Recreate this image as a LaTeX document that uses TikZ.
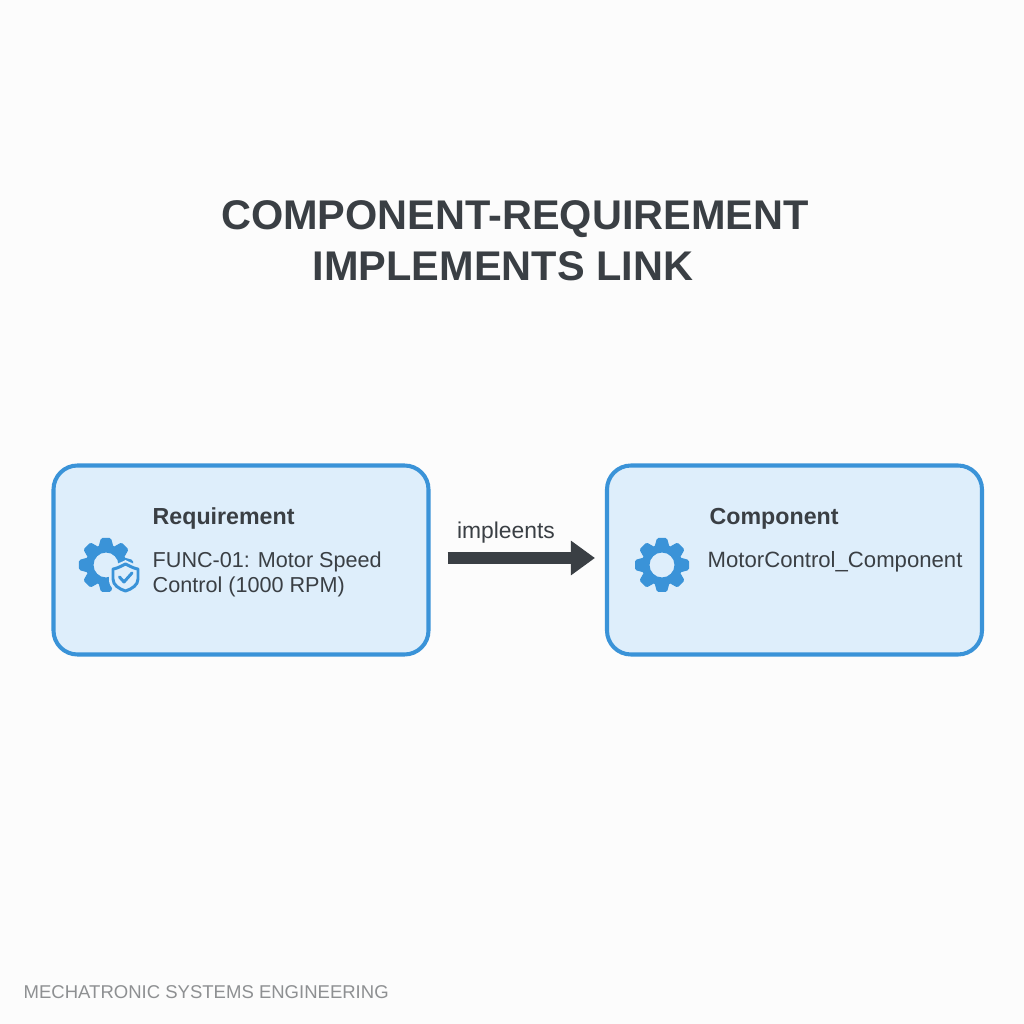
\documentclass[tikz,border=0pt]{standalone}
\usepackage{fontspec}
\setmainfont{Liberation Sans}
\usetikzlibrary{arrows.meta}
\definecolor{boxblue}{HTML}{3A93D8}
\definecolor{boxfill}{HTML}{DEEEFB}
\definecolor{inkdark}{HTML}{3A3F44}
\definecolor{inkgrey}{HTML}{8E9092}
\tikzset{
	blockbox/.style={draw=boxblue, fill=boxfill, line width=1.15pt, rounded corners=0.24cm, minimum width=3.75cm, minimum height=1.89cm, inner sep=0},
	headtext/.style={anchor=west, inner sep=0, text=inkdark, font=\fontsize{6.6}{8}\selectfont\bfseries},
	bodytext/.style={anchor=west, inner sep=0, text=inkdark, font=\fontsize{6.15}{7}\selectfont},
	titletext/.style={inner sep=0, text=inkdark, font=\fontsize{11.8}{14}\selectfont\bfseries},
	linkarrow/.style={draw=inkdark, line width=0.12cm, -{Triangle[length=0.24cm, width=0.33cm]}},
}
\def\gearicon(#1,#2)#3{
	\fill[boxblue, even odd rule] (#1, #2) circle (0.205) (#1, #2) circle (#3);
	\foreach \ang in {0,45,...,315}
		\fill[boxblue, shift={(#1, #2)}, rotate=\ang, rounded corners=0.015cm] (0.18, -0.075) -- (0.27, -0.05) -- (0.27, 0.05) -- (0.18, 0.075) -- cycle;
}
\begin{document}
\begin{tikzpicture}
	\useasboundingbox (0, 0) rectangle (10.24, 10.24);
	\fill[white!99!black] (0, 0) rectangle (10.24, 10.24);

	\node[titletext] (title) at (5.15, 8.05) {COMPONENT-REQUIREMENT};
	\node[titletext] (titletwo) at (5.03, 7.58) {IMPLEMENTS LINK};

	\node[blockbox] (reqbox) at (2.41, 4.64) {};
	\node[blockbox] (compbox) at (7.945, 4.64) {};

	\node[headtext] (reqhead) at (1.52, 5.05) {Requirement};
	\node[bodytext] (reqone) at (1.52, 4.62) {FUNC-01: Motor Speed};
	\node[bodytext] (reqtwo) at (1.52, 4.37) {Control (1000 RPM)};

	\node[headtext] (comphead) at (7.09, 5.05) {Component};
	\node[bodytext, font=\fontsize{6.3}{7}\selectfont] (compone) at (7.07, 4.62) {MotorControl\_Component};

	% gears
	\gearicon(1.06, 4.59){0.125}
	\gearicon(6.62, 4.59){0.125}

	% shield on the first gear
	\fill[boxfill] (1.255, 4.64) .. controls (1.18, 4.6) and (1.11, 4.58) .. (1.09, 4.58) -- (1.09, 4.44) .. controls (1.09, 4.36) and (1.17, 4.31) .. (1.255, 4.28) .. controls (1.34, 4.31) and (1.42, 4.36) .. (1.42, 4.44) -- (1.42, 4.58) .. controls (1.4, 4.58) and (1.33, 4.6) .. (1.255, 4.64) -- cycle;
	\draw[boxblue, line width=0.85pt, line join=round] (1.255, 4.6) .. controls (1.2, 4.57) and (1.15, 4.55) .. (1.13, 4.55) -- (1.13, 4.45) .. controls (1.13, 4.39) and (1.19, 4.35) .. (1.255, 4.33) .. controls (1.32, 4.35) and (1.38, 4.39) .. (1.38, 4.45) -- (1.38, 4.55) .. controls (1.36, 4.55) and (1.31, 4.57) .. (1.255, 4.6) -- cycle;
	\draw[boxblue, line width=0.85pt, line cap=round, line join=round] (1.195, 4.47) -- (1.24, 4.42) -- (1.32, 4.51);

	% implements arrow
	\node[inner sep=0, text=inkdark, font=\fontsize{6.5}{7}\selectfont] (linklabel) at (5.06, 4.91) {impleents};
	\coordinate (linkstart) at (reqbox.east |- 0, 4.66);
	\coordinate (linkend) at (compbox.west |- 0, 4.66);
	\draw[linkarrow, shorten <=0.17cm, shorten >=0.1cm] (linkstart) -- (linkend);

	\node[anchor=west, inner sep=0, text=inkgrey, font=\fontsize{5.27}{6}\selectfont] (footer) at (0.23, 0.32) {MECHATRONIC SYSTEMS ENGINEERING};
\end{tikzpicture}
\end{document}
